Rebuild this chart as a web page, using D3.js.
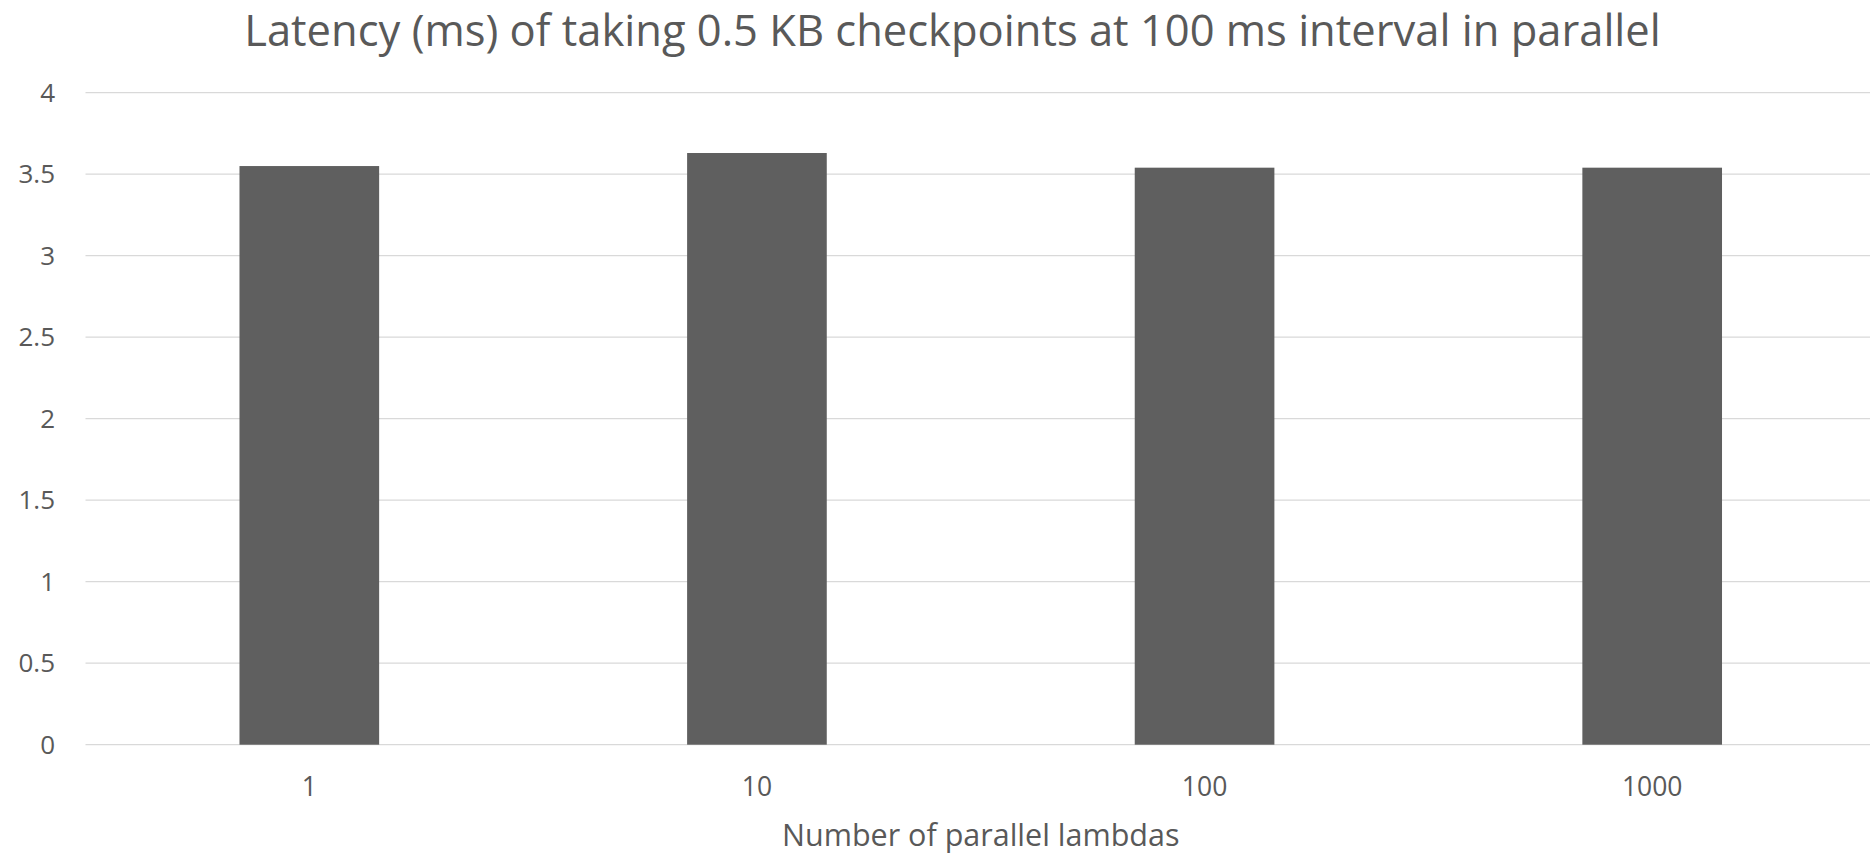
<!DOCTYPE html>
<html>
<head>
<meta charset="utf-8">
<script src="https://cdn.jsdelivr.net/npm/d3@7"></script>
<style>
  html, body { margin: 0; padding: 0; background: #fff; }
  svg { display: block; }
  text { font-family: "Open Sans", "Noto Sans", sans-serif; fill: #595959; }
</style>
</head>
<body>
<svg id="chart" width="1870" height="856"></svg>
<script>
// Chart data
const categories = ["1", "10", "100", "1000"];
const latencyMs = [3.55, 3.63, 3.54, 3.54];
const yTicks = [0, 0.5, 1, 1.5, 2, 2.5, 3, 3.5, 4];
const titleText = "Latency (ms) of taking 0.5 KB checkpoints at 100 ms interval in parallel";
const xAxisTitle = "Number of parallel lambdas";

const W = 1870, H = 856;
const plot = { left: 85.5, right: 1876, top: 92.7, bottom: 744.7 };

const svg = d3.select("#chart");

const x = d3.scaleBand()
  .domain(categories)
  .range([plot.left, plot.right])
  .padding(0);

const barWidth = x.bandwidth() * 0.312;

const y = d3.scaleLinear()
  .domain([0, 4])
  .range([plot.bottom, plot.top]);

// Horizontal gridlines
svg.append("g")
  .selectAll("line")
  .data(yTicks)
  .join("line")
  .attr("x1", plot.left)
  .attr("x2", W)
  .attr("y1", d => y(d))
  .attr("y2", d => y(d))
  .attr("stroke", "#d9d9d9")
  .attr("stroke-width", 1.3);

// Y tick labels
svg.append("g")
  .selectAll("text")
  .data(yTicks)
  .join("text")
  .attr("x", 55)
  .attr("y", d => y(d))
  .attr("dy", "0.35em")
  .attr("text-anchor", "end")
  .style("font-size", "26px")
  .text(d => d3.format("~g")(d));

// Bars
svg.append("g")
  .selectAll("rect")
  .data(categories.map((c, i) => ({ c, v: latencyMs[i] })))
  .join("rect")
  .attr("x", d => x(d.c) + (x.bandwidth() - barWidth) / 2)
  .attr("width", barWidth)
  .attr("y", d => y(d.v))
  .attr("height", d => y(0) - y(d.v))
  .attr("fill", "#5f5f5f");

// X tick labels
svg.append("g")
  .selectAll("text")
  .data(categories)
  .join("text")
  .attr("x", d => x(d) + x.bandwidth() / 2)
  .attr("y", 796)
  .attr("text-anchor", "middle")
  .style("font-size", "26.5px")
  .text(d => d);

// Axis title
svg.append("text")
  .attr("x", (plot.left + plot.right) / 2)
  .attr("y", 846)
  .attr("text-anchor", "middle")
  .style("font-size", "30.5px")
  .text(xAxisTitle);

// Chart title
svg.append("text")
  .attr("x", 952.5)
  .attr("y", 46)
  .attr("text-anchor", "middle")
  .style("font-size", "43.5px")
  .text(titleText);
</script>
</body>
</html>
